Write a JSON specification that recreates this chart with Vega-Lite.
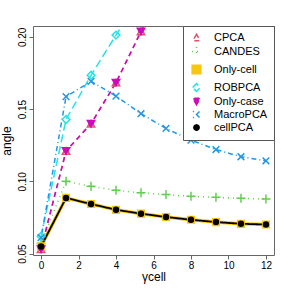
{
  "$schema": "https://vega.github.io/schema/vega-lite/v6.json",
  "width": 241,
  "height": 229,
  "autosize": "none",
  "padding": {"left": 33, "top": 26, "right": 14, "bottom": 33},
  "background": "white",
  "config": {
    "view": {"stroke": "#666666", "strokeWidth": 1},
    "font": "Liberation Sans",
    "axis": {"domain": false, "grid": false, "tickColor": "#666666", "tickSize": 4, "labelColor": "black", "titleColor": "black", "labelFont": "Liberation Sans", "titleFont": "Liberation Sans", "labelFontSize": 10, "titleFontSize": 12, "titleFontWeight": "normal"}
  },
  "data": {"values": [
    {"series": "CPCA", "m": "CPCA", "x": 0, "y": 0.053}, {"series": "CPCA", "m": "CPCA", "x": 1.333, "y": 0.121}, {"series": "CPCA", "m": "CPCA", "x": 2.667, "y": 0.1399}, {"series": "CPCA", "m": "CPCA", "x": 4, "y": 0.1683}, {"series": "CPCA", "m": "CPCA", "x": 5.333, "y": 0.2037}, {"series": "CPCA", "m": "CPCA", "x": 6.667, "y": 0.235}, {"series": "CPCA", "m": "CPCA", "x": 8, "y": 0.26}, {"series": "CPCA", "m": "CPCA", "x": 9.333, "y": 0.28}, {"series": "CPCA", "m": "CPCA", "x": 10.667, "y": 0.3}, {"series": "CPCA", "m": "CPCA", "x": 12, "y": 0.315},
    {"series": "CANDES", "m": "CANDES", "x": 0, "y": 0.057}, {"series": "CANDES", "m": "CANDES", "x": 1.333, "y": 0.1}, {"series": "CANDES", "m": "CANDES", "x": 2.667, "y": 0.0965}, {"series": "CANDES", "m": "CANDES", "x": 4, "y": 0.0938}, {"series": "CANDES", "m": "CANDES", "x": 5.333, "y": 0.092}, {"series": "CANDES", "m": "CANDES", "x": 6.667, "y": 0.0908}, {"series": "CANDES", "m": "CANDES", "x": 8, "y": 0.0896}, {"series": "CANDES", "m": "CANDES", "x": 9.333, "y": 0.0889}, {"series": "CANDES", "m": "CANDES", "x": 10.667, "y": 0.0882}, {"series": "CANDES", "m": "CANDES", "x": 12, "y": 0.0878},
    {"series": "Only-cell", "m": "Only-cell", "x": 0, "y": 0.0549}, {"series": "Only-cell", "m": "Only-cell", "x": 1.333, "y": 0.0885}, {"series": "Only-cell", "m": "Only-cell", "x": 2.667, "y": 0.0843}, {"series": "Only-cell", "m": "Only-cell", "x": 4, "y": 0.0803}, {"series": "Only-cell", "m": "Only-cell", "x": 5.333, "y": 0.0776}, {"series": "Only-cell", "m": "Only-cell", "x": 6.667, "y": 0.0753}, {"series": "Only-cell", "m": "Only-cell", "x": 8, "y": 0.0734}, {"series": "Only-cell", "m": "Only-cell", "x": 9.333, "y": 0.0718}, {"series": "Only-cell", "m": "Only-cell", "x": 10.667, "y": 0.0706}, {"series": "Only-cell", "m": "Only-cell", "x": 12, "y": 0.0701},
    {"series": "ROBPCA", "m": "ROBPCA", "x": 0, "y": 0.062}, {"series": "ROBPCA", "m": "ROBPCA", "x": 1.333, "y": 0.1428}, {"series": "ROBPCA", "m": "ROBPCA", "x": 2.667, "y": 0.1734}, {"series": "ROBPCA", "m": "ROBPCA", "x": 4, "y": 0.2012}, {"series": "ROBPCA", "m": "ROBPCA", "x": 5.333, "y": 0.228}, {"series": "ROBPCA", "m": "ROBPCA", "x": 6.667, "y": 0.248}, {"series": "ROBPCA", "m": "ROBPCA", "x": 8, "y": 0.264}, {"series": "ROBPCA", "m": "ROBPCA", "x": 9.333, "y": 0.277}, {"series": "ROBPCA", "m": "ROBPCA", "x": 10.667, "y": 0.287}, {"series": "ROBPCA", "m": "ROBPCA", "x": 12, "y": 0.295},
    {"series": "Only-case", "m": "Only-case", "x": 0, "y": 0.053}, {"series": "Only-case", "m": "Only-case", "x": 1.333, "y": 0.121}, {"series": "Only-case", "m": "Only-case", "x": 2.667, "y": 0.1399}, {"series": "Only-case", "m": "Only-case", "x": 4, "y": 0.1683}, {"series": "Only-case", "m": "Only-case", "x": 5.333, "y": 0.2037}, {"series": "Only-case", "m": "Only-case", "x": 6.667, "y": 0.235}, {"series": "Only-case", "m": "Only-case", "x": 8, "y": 0.26}, {"series": "Only-case", "m": "Only-case", "x": 9.333, "y": 0.28}, {"series": "Only-case", "m": "Only-case", "x": 10.667, "y": 0.3}, {"series": "Only-case", "m": "Only-case", "x": 12, "y": 0.315},
    {"series": "MacroPCA", "m": "MacroPCA", "x": 0, "y": 0.061}, {"series": "MacroPCA", "m": "MacroPCA", "x": 1.333, "y": 0.1586}, {"series": "MacroPCA", "m": "MacroPCA", "x": 2.667, "y": 0.1692}, {"series": "MacroPCA", "m": "MacroPCA", "x": 4, "y": 0.159}, {"series": "MacroPCA", "m": "MacroPCA", "x": 5.333, "y": 0.1468}, {"series": "MacroPCA", "m": "MacroPCA", "x": 6.667, "y": 0.1366}, {"series": "MacroPCA", "m": "MacroPCA", "x": 8, "y": 0.1285}, {"series": "MacroPCA", "m": "MacroPCA", "x": 9.333, "y": 0.122}, {"series": "MacroPCA", "m": "MacroPCA", "x": 10.667, "y": 0.117}, {"series": "MacroPCA", "m": "MacroPCA", "x": 12, "y": 0.1142},
    {"series": "cellPCA", "m": "cellPCA", "x": 0, "y": 0.0549}, {"series": "cellPCA", "m": "cellPCA", "x": 1.333, "y": 0.0885}, {"series": "cellPCA", "m": "cellPCA", "x": 2.667, "y": 0.0843}, {"series": "cellPCA", "m": "cellPCA", "x": 4, "y": 0.0803}, {"series": "cellPCA", "m": "cellPCA", "x": 5.333, "y": 0.0776}, {"series": "cellPCA", "m": "cellPCA", "x": 6.667, "y": 0.0753}, {"series": "cellPCA", "m": "cellPCA", "x": 8, "y": 0.0734}, {"series": "cellPCA", "m": "cellPCA", "x": 9.333, "y": 0.0718}, {"series": "cellPCA", "m": "cellPCA", "x": 10.667, "y": 0.0706}, {"series": "cellPCA", "m": "cellPCA", "x": 12, "y": 0.0701}
  ]},
  "encoding": {
    "x": {"field": "x", "type": "quantitative", "scale": {"domain": [-0.43, 12.43], "nice": false, "zero": false},
      "axis": {"values": [0, 2, 4, 6, 8, 10, 12], "title": "γcell", "labelPadding": 1, "titlePadding": 1, "labelFlush": false}},
    "y": {"field": "y", "type": "quantitative", "scale": {"domain": [0.049, 0.2075], "nice": false, "zero": false},
      "axis": {"values": [0.05, 0.1, 0.15, 0.2], "format": ".2f", "title": "angle", "labelAngle": -90, "labelAlign": "center", "labelBaseline": "bottom", "labelPadding": 2, "titlePadding": 4, "labelFlush": false}},
    "color": {"field": "series", "type": "nominal",
      "scale": {"domain": ["CPCA", "CANDES", "Only-cell", "ROBPCA", "Only-case", "MacroPCA", "cellPCA"], "range": ["#DF536B", "#61D04F", "#F5C710", "#28E2E5", "#CD0BBC", "#2297E6", "#000000"]},
      "legend": {"title": null, "orient": "top-right", "offset": 0, "padding": 6, "strokeColor": "#555555", "fillColor": "white", "cornerRadius": 0,
        "labelFont": "Liberation Sans", "labelFontSize": 11, "labelColor": "black", "symbolSize": 100, "symbolOffset": 2, "labelOffset": 12, "rowPadding": 0, "symbolStrokeWidth": 1.5}
    }
  },
  "layer": [
    {
      "mark": {"type": "line", "clip": true},
      "encoding": {
        "strokeDash": {"field": "m", "type": "nominal", "legend": null,
          "scale": {"domain": ["CPCA", "CANDES", "Only-cell", "ROBPCA", "Only-case", "MacroPCA", "cellPCA"], "range": [[5, 4], [1, 4], [1, 0], [8, 4], [5, 4], [1, 3, 5, 3], [1, 0]]}},
        "strokeWidth": {"field": "m", "type": "ordinal", "legend": null,
          "scale": {"type": "ordinal", "domain": ["CPCA", "CANDES", "Only-cell", "ROBPCA", "Only-case", "MacroPCA", "cellPCA"], "range": [1.5, 1.5, 3.5, 1.5, 1.5, 1.5, 1.8]}}
      }
    },
    {
      "mark": {"type": "point", "filled": false, "opacity": 1, "clip": true, "strokeWidth": 1.5},
      "encoding": {
        "shape": {"field": "m", "type": "nominal", "legend": null,
          "scale": {"domain": ["CPCA", "CANDES", "Only-cell", "ROBPCA", "Only-case", "MacroPCA", "cellPCA"], "range": ["triangle-up", "M-1,0L1,0M0,-1L0,1", "square", "diamond", "triangle-down", "M-1,-1L1,1M-1,1L1,-1", "circle"]}},
        "fill": {"field": "m", "type": "nominal", "legend": null,
          "scale": {"domain": ["CPCA", "CANDES", "Only-cell", "ROBPCA", "Only-case", "MacroPCA", "cellPCA"], "range": ["transparent", "transparent", "#F5C710", "transparent", "#CD0BBC", "transparent", "#000000"]}},
        "size": {"field": "m", "type": "ordinal", "legend": null,
          "scale": {"type": "ordinal", "domain": ["CPCA", "CANDES", "Only-cell", "ROBPCA", "Only-case", "MacroPCA", "cellPCA"], "range": [55, 81, 45, 60, 55, 45, 25]}}
      }
    }
  ]
}
